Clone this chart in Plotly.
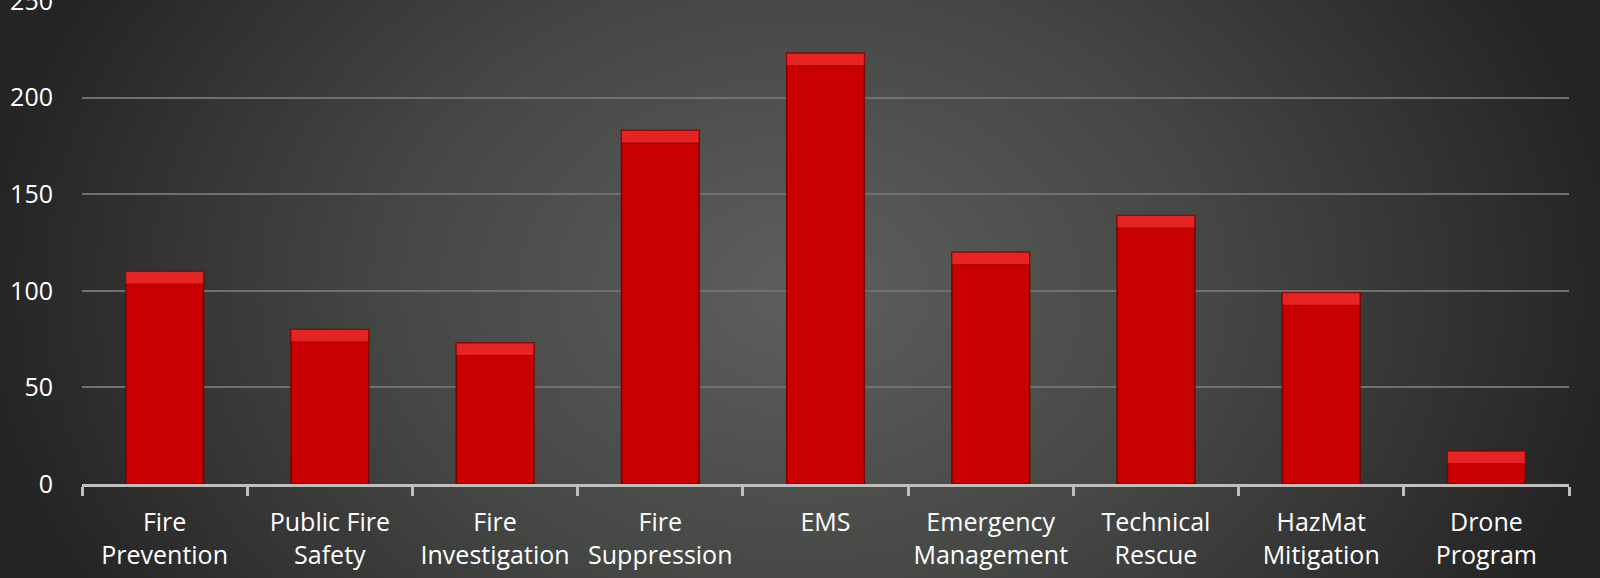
"""
Program areas bar chart on a dark radial background.
"""

import base64

import plotly.graph_objects as go

categories = ['Fire<br>Prevention', 'Public Fire<br>Safety', 'Fire<br>Investigation',
              'Fire<br>Suppression', 'EMS', 'Emergency<br>Management',
              'Technical<br>Rescue', 'HazMat<br>Mitigation', 'Drone<br>Program']
values = [110, 80, 73, 183, 223, 120, 139, 99, 17]
y_ticks = [0, 50, 100, 150, 200, 250]

bevel = 6.5  # height of the lighter top edge, in data units

# Radial gradient background, as an inline svg.
svg = """<svg xmlns='http://www.w3.org/2000/svg' width='1600' height='578'
 viewBox='0 0 1600 578' preserveAspectRatio='none'>
<defs><radialGradient id='g' gradientUnits='userSpaceOnUse' cx='800' cy='290' r='820'
 gradientTransform='translate(800 290) scale(1 0.75) translate(-800 -290)'>
<stop offset='0%' stop-color='#5d5f5d'/>
<stop offset='50%' stop-color='#454745'/>
<stop offset='100%' stop-color='#242424'/>
</radialGradient></defs>
<rect width='1600' height='578' fill='url(#g)'/></svg>"""
bg = 'data:image/svg+xml;base64,' + base64.b64encode(svg.encode()).decode()

fig = go.Figure()

fig.add_trace(go.Bar(
    x=categories,
    y=values,
    width=0.47,
    marker=dict(color='#c80000', line=dict(color='#7a0000', width=1.5)),
    hoverinfo='x+y'
))

# Lighter top band to mimic the bevel.
fig.add_trace(go.Bar(
    x=categories,
    y=[bevel] * len(values),
    base=[v - bevel for v in values],
    width=0.47,
    marker=dict(color='#e62424', line=dict(color='#a00000', width=1)),
    hoverinfo='skip'
))

plot_w = 1600 - 82 - 31
plot_h = 578 - 1 - 94

fig.update_layout(
    width=1600,
    height=578,
    barmode='overlay',
    showlegend=False,
    paper_bgcolor='#2e2e2e',
    plot_bgcolor='rgba(0,0,0,0)',
    margin=dict(l=82, r=31, t=1, b=94, autoexpand=False),
    font=dict(family='Open Sans', size=25, color='#ffffff'),
    images=[dict(source=bg, xref='x domain', yref='y domain',
                 x=-82 / plot_w, y=1 + 1 / plot_h,
                 sizex=1600 / plot_w, sizey=578 / plot_h,
                 sizing='stretch', layer='below')],
)

fig.update_xaxes(
    showline=True,
    linecolor='#bfbfbf',
    linewidth=3,
    ticks='outside',
    tickson='boundaries',
    ticklen=9,
    tickwidth=3,
    tickcolor='#bfbfbf',
    tickangle=0,
    automargin=False,
    ticklabelstandoff=14,
    tickfont=dict(size=25, color='#ffffff'),
    showgrid=False,
)

fig.update_yaxes(
    range=[0, 250],
    tickvals=y_ticks,
    showgrid=True,
    gridcolor='#6f706f',
    gridwidth=2,
    zeroline=False,
    showline=False,
    automargin=False,
    ticklabeloverflow='allow',
    ticklabelstandoff=28,
    tickfont=dict(size=25, color='#ffffff'),
)

fig.write_html("out.html", config={'displayModeBar': False},
               post_script="document.body.style.margin = '0';")
